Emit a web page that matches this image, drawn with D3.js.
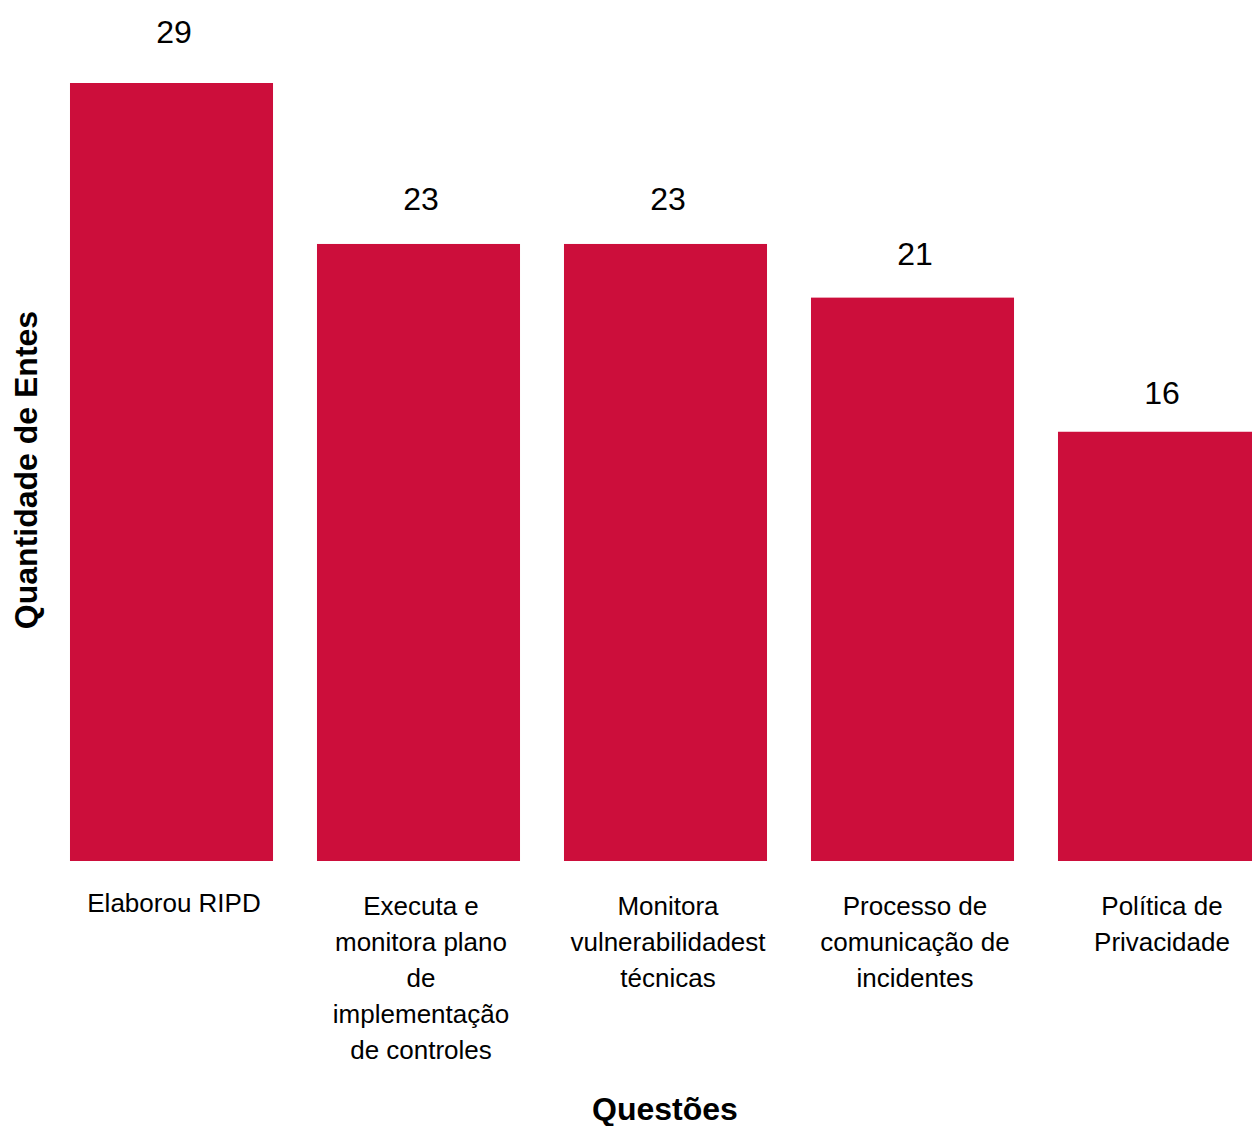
<!DOCTYPE html>
<html>
<head>
<meta charset="utf-8">
<script src="https://cdn.jsdelivr.net/npm/d3@7"></script>
<style>
  html, body { margin: 0; padding: 0; background: #ffffff; overflow: hidden; }
  svg { display: block; font-family: "Liberation Sans", Arial, sans-serif; }
</style>
</head>
<body>
<svg id="chart" width="1252" height="1126"></svg>
<script>
const categories = [
  "Elaborou RIPD",
  "Executa e monitora plano de implementação de controles",
  "Monitora vulnerabilidadest técnicas",
  "Processo de comunicação de incidentes",
  "Política de Privacidade"
];
const categoryLines = [
  ["Elaborou RIPD"],
  ["Executa e", "monitora plano", "de", "implementação", "de controles"],
  ["Monitora", "vulnerabilidadest", "técnicas"],
  ["Processo de", "comunicação de", "incidentes"],
  ["Política de", "Privacidade"]
];
const values = [29, 23, 23, 21, 16];
const yTitle = "Quantidade de Entes";
const xTitle = "Questões";

const svg = d3.select("#chart");
const barColor = "#cc0e3b";

const x = d3.scaleBand()
  .domain(categories)
  .range([48, 1283])
  .paddingInner(0.178)
  .paddingOuter(0.089);

const y = d3.scaleLinear()
  .domain([0, 29])
  .range([861, 83]);

// value-label baseline placement (labels sit closer to shorter bars)
const yLabel = d3.scaleLinear()
  .domain([0, 29])
  .range([848, 43]);

const data = categories.map((c, i) => ({ cat: c, value: values[i], lines: categoryLines[i] }));
const cx = d => x(d.cat) + x.bandwidth() / 2 + 2.5;

svg.append("g")
  .selectAll("rect")
  .data(data)
  .join("rect")
  .attr("x", d => x(d.cat))
  .attr("y", d => y(d.value))
  .attr("width", x.bandwidth())
  .attr("height", d => y(0) - y(d.value))
  .attr("fill", barColor);

// value labels
svg.append("g")
  .selectAll("text")
  .data(data)
  .join("text")
  .attr("x", cx)
  .attr("y", d => Math.min(yLabel(d.value), y(d.value) - 28))
  .attr("text-anchor", "middle")
  .attr("font-size", 32)
  .attr("fill", "#000")
  .text(d => d.value);

// category labels
const catG = svg.append("g")
  .selectAll("text")
  .data(data)
  .join("text")
  .attr("x", cx)
  .attr("y", d => d.lines.length === 1 ? 912 : 915)
  .attr("text-anchor", "middle")
  .attr("font-size", 26)
  .attr("fill", "#000");
catG.selectAll("tspan")
  .data(d => d.lines.map(l => ({ l, px: cx(d) })))
  .join("tspan")
  .attr("x", t => t.px)
  .attr("dy", (t, i) => i === 0 ? 0 : 36)
  .text(t => t.l);

// axis titles
svg.append("text")
  .attr("transform", "translate(37,470) rotate(-90)")
  .attr("text-anchor", "middle")
  .attr("font-size", 32)
  .attr("font-weight", "bold")
  .attr("fill", "#000")
  .text(yTitle);

svg.append("text")
  .attr("x", 665)
  .attr("y", 1120)
  .attr("text-anchor", "middle")
  .attr("font-size", 32)
  .attr("font-weight", "bold")
  .attr("fill", "#000")
  .text(xTitle);
</script>
</body>
</html>
